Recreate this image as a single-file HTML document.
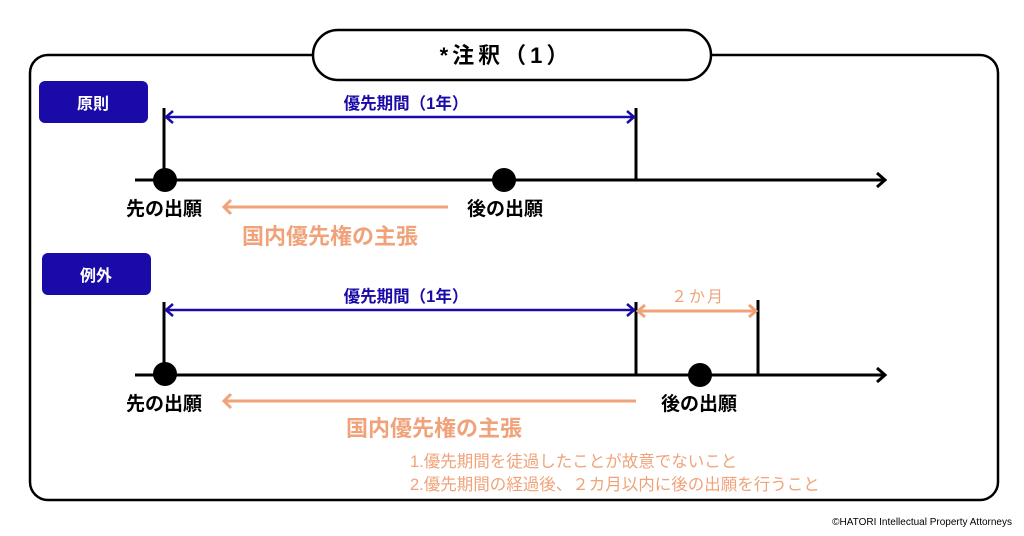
<!DOCTYPE html>
<html><head><meta charset="utf-8"><style>
html,body{margin:0;padding:0;background:#fff;width:1024px;height:536px;overflow:hidden}
svg text{font-family:"Liberation Sans","Noto Sans CJK JP",sans-serif}
</style></head><body>
<svg width="1024" height="536" viewBox="0 0 1024 536" xmlns="http://www.w3.org/2000/svg">
<rect x="30" y="55" width="968" height="445" rx="18" fill="#fff" stroke="#000" stroke-width="2.5"/>
<rect x="313" y="30" width="398" height="50" rx="25" fill="#fff" stroke="#000" stroke-width="2.5"/>
<text x="506" y="63" font-size="22" font-weight="bold" text-anchor="middle" letter-spacing="4">*注釈（1）</text>

<rect x="39" y="81" width="109" height="42" rx="6" fill="#1a0aa8"/>
<text x="93" y="109" font-size="16" font-weight="bold" fill="#fff" text-anchor="middle">原則</text>
<rect x="42" y="253" width="109" height="42" rx="6" fill="#1a0aa8"/>
<text x="96" y="281" font-size="16" font-weight="bold" fill="#fff" text-anchor="middle">例外</text>

<g stroke="#000" stroke-width="3" fill="none">
<line x1="135" y1="180" x2="885" y2="180"/>
<polyline points="877,173 885,180 877,187"/>
<line x1="164" y1="108" x2="164" y2="180"/>
<line x1="636" y1="108" x2="636" y2="180"/>
<line x1="135" y1="375" x2="885" y2="375"/>
<polyline points="877,368 885,375 877,382"/>
<line x1="164" y1="302" x2="164" y2="375"/>
<line x1="636" y1="302" x2="636" y2="375"/>
<line x1="758" y1="300" x2="758" y2="375"/>
</g>
<circle cx="165" cy="180" r="12" fill="#000"/>
<circle cx="504" cy="180" r="12" fill="#000"/>
<circle cx="165" cy="374" r="12" fill="#000"/>
<circle cx="700" cy="375" r="12" fill="#000"/>

<g stroke="#1a0aa8" stroke-width="2.5" fill="none">
<line x1="166" y1="117" x2="634" y2="117"/>
<polyline points="173,111 166,117 173,123"/>
<polyline points="627,111 634,117 627,123"/>
<line x1="166" y1="310" x2="634" y2="310"/>
<polyline points="173,304 166,310 173,316"/>
<polyline points="627,304 634,310 627,316"/>
</g>
<text x="406" y="109" font-size="16.5" fill="#1a0aa8" text-anchor="middle" font-weight="bold">優先期間（1年）</text>
<text x="406" y="302" font-size="16.5" fill="#1a0aa8" text-anchor="middle" font-weight="bold">優先期間（1年）</text>

<g stroke="#f0a37a" stroke-width="3" fill="none">
<line x1="224" y1="207" x2="448" y2="207"/>
<polyline points="231,200 224,207 231,214"/>
<line x1="224" y1="401" x2="636" y2="401"/>
<polyline points="231,394 224,401 231,408"/>
<line x1="638" y1="311" x2="756" y2="311"/>
<polyline points="645,305 638,311 645,317"/>
<polyline points="749,305 756,311 749,317"/>
</g>
<text x="698" y="302" font-size="16" fill="#f0a37a" text-anchor="middle" letter-spacing="2">２か月</text>

<text x="164" y="215" font-size="19" font-weight="bold" text-anchor="middle">先の出願</text>
<text x="505" y="215" font-size="19" font-weight="bold" text-anchor="middle">後の出願</text>
<text x="330" y="244" font-size="22" fill="#f0a37a" text-anchor="middle" font-weight="bold">国内優先権の主張</text>
<text x="164" y="410" font-size="19" font-weight="bold" text-anchor="middle">先の出願</text>
<text x="699" y="410" font-size="19" font-weight="bold" text-anchor="middle">後の出願</text>
<text x="434" y="436" font-size="22" fill="#f0a37a" text-anchor="middle" font-weight="bold">国内優先権の主張</text>

<text x="410" y="467" font-size="16.5" fill="#f0a37a">1.優先期間を徒過したことが故意でないこと</text>
<text x="410" y="490" font-size="16.5" fill="#f0a37a">2.優先期間の経過後、２カ月以内に後の出願を行うこと</text>
<text x="1012" y="525" font-size="10" text-anchor="end">©HATORI Intellectual Property Attorneys</text>
</svg>
</body></html>
